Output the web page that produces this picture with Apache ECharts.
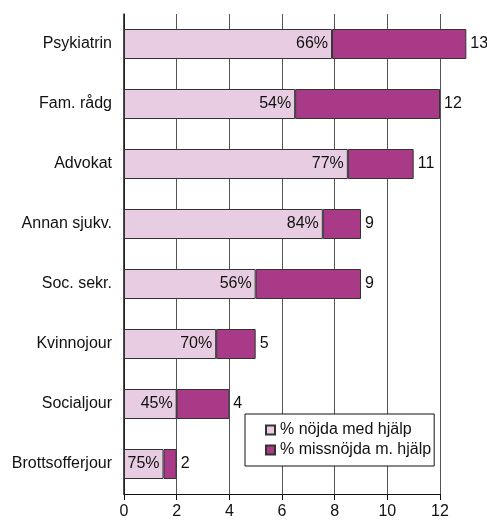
<!DOCTYPE html>
<html>
<head>
<meta charset="utf-8">
<script src="https://cdn.jsdelivr.net/npm/echarts@6/dist/echarts.min.js"></script>
<style>
  html, body { margin: 0; padding: 0; background: #fff; }
  #chart { width: 487px; height: 520px; }
</style>
</head>
<body>
<div id="chart"></div>
<script>
// kategorier, uppifrån och ned
var categories = ['Psykiatrin', 'Fam. rådg', 'Advokat', 'Annan sjukv.', 'Soc. sekr.', 'Kvinnojour', 'Socialjour', 'Brottsofferjour'];
// nöjda (ljus del) och missnöjda (mörk del)
var nojda = [7.9, 6.5, 8.5, 7.55, 5, 3.5, 2, 1.5];
var missnojda = [5.1, 5.5, 2.5, 1.45, 4, 1.5, 2, 0.5];
var totals = [13, 12, 11, 9, 9, 5, 4, 2];
var percentLabels = ['66%', '54%', '77%', '84%', '56%', '70%', '45%', '75%'];
var xTicks = [0, 2, 4, 6, 8, 10, 12];

var fontFamily = "'Liberation Sans', Arial, Helvetica, sans-serif";
var fontSize = 16;

var chart = echarts.init(document.getElementById('chart'));

var option = {
    animation: false,
    textStyle: { fontFamily: fontFamily },
    grid: {
        left: 124,
        right: 47,
        top: 14,
        bottom: 26,
        containLabel: false
    },
    legend: {
        orient: 'vertical',
        left: 245,
        top: 414,
        padding: [8, 3, 8, 20],
        itemGap: 4,
        itemWidth: 9,
        itemHeight: 9,
        icon: 'rect',
        backgroundColor: '#fff',
        borderColor: '#111',
        borderWidth: 1,
        borderRadius: 0,
        textStyle: {
            color: '#111',
            fontSize: fontSize,
            fontFamily: fontFamily
        },
        data: ['% nöjda med hjälp', '% missnöjda m. hjälp']
    },
    xAxis: {
        type: 'value',
        min: xTicks[0],
        max: xTicks[xTicks.length - 1],
        interval: 2,
        axisLine: { show: true, lineStyle: { color: '#111', width: 1 } },
        axisTick: { show: true, length: 6, lineStyle: { color: '#111' } },
        axisLabel: {
            color: '#111',
            fontSize: fontSize,
            margin: 10,
            fontFamily: fontFamily
        },
        splitLine: { show: true, lineStyle: { color: '#555', width: 1 } }
    },
    yAxis: {
        type: 'category',
        inverse: true,
        data: categories,
        axisLine: { show: true, lineStyle: { color: '#111', width: 1.5 } },
        axisTick: { show: false },
        axisLabel: {
            color: '#111',
            fontSize: fontSize,
            margin: 12,
            fontFamily: fontFamily
        }
    },
    series: [
        {
            name: '% nöjda med hjälp',
            type: 'bar',
            stack: 'sum',
            barWidth: 30,
            clip: false,
            data: nojda,
            itemStyle: {
                color: '#E8CDE2',
                borderColor: '#333',
                borderWidth: 1
            },
            label: {
                show: true,
                position: 'insideRight',
                distance: 4,
                color: '#111',
                fontSize: fontSize,
                fontFamily: fontFamily,
                formatter: function (p) { return percentLabels[p.dataIndex]; }
            }
        },
        {
            name: '% missnöjda m. hjälp',
            type: 'bar',
            stack: 'sum',
            barWidth: 30,
            clip: false,
            data: missnojda,
            itemStyle: {
                color: '#A83A88',
                borderColor: '#333',
                borderWidth: 1
            },
            label: {
                show: true,
                position: 'right',
                distance: 4,
                color: '#111',
                fontSize: fontSize,
                fontFamily: fontFamily,
                formatter: function (p) { return totals[p.dataIndex]; }
            }
        }
    ]
};

chart.setOption(option);
</script>
</body>
</html>
